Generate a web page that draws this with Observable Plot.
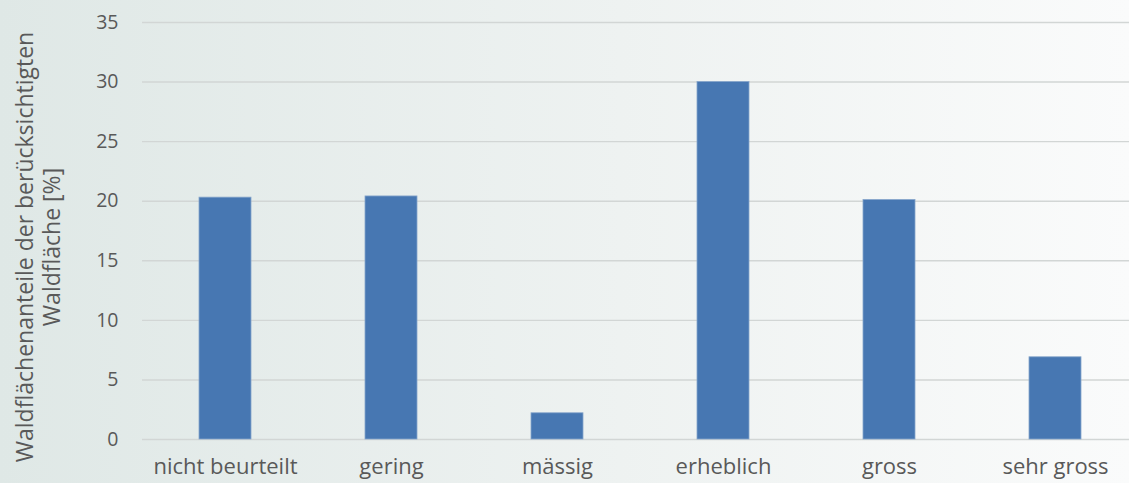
<!DOCTYPE html>
<html>
<head>
<meta charset="utf-8">
<script src="https://cdn.jsdelivr.net/npm/d3@7"></script>
<script src="https://cdn.jsdelivr.net/npm/@observablehq/plot@0.6"></script>
<style>
  html, body { margin: 0; padding: 0; }
  body { width: 1129px; height: 483px; overflow: hidden;
         background: linear-gradient(to right, #dfe8e6 0%, #eef2f1 55%, #fafbfb 100%); }
  svg { display: block; background: transparent !important; }
</style>
</head>
<body>
<div id="chart"></div>
<script>
const categories = ["nicht beurteilt", "gering", "mässig", "erheblich", "gross", "sehr gross"];
const values = [20.3, 20.4, 2.2, 30.0, 20.1, 6.9];
const yTicks = [0, 5, 10, 15, 20, 25, 30, 35];
const yLabel = "Waldflächenanteile der berücksichtigten\nWaldfläche [%]";

const data = categories.map((c, i) => ({category: c, value: values[i]}));

const plot = Plot.plot({
  width: 1129,
  height: 483,
  marginLeft: 142,
  marginRight: 0,
  marginTop: 22,
  marginBottom: 44,
  style: {background: "transparent", fontFamily: "'Open Sans', sans-serif", color: "#595959"},
  x: {domain: categories, range: [142, 1138], paddingInner: 0.687, paddingOuter: 0.3435, label: null},
  y: {domain: [0, 35], range: [439, 22], label: null},
  marks: [
    Plot.ruleY(yTicks, {stroke: "#d2d6d5", strokeWidth: 1.4}),
    Plot.barY(data, {x: "category", y: "value", fill: "#4777b2", stroke: "#86a5cb", strokeWidth: 0.8}),
    Plot.axisY({ticks: yTicks, tickSize: 0, tickPadding: 24, fontSize: 19.5, label: null, fill: "#595959"}),
    Plot.axisX({tickSize: 0, tickPadding: 19, fontSize: 22, label: null, fill: "#595959"}),
    Plot.text([yLabel], {frameAnchor: "left", rotate: -90, dx: -105, dy: 16, fontSize: 23, lineHeight: 1.18, fill: "#595959", textAnchor: "middle", lineAnchor: "middle"})
  ]
});
document.getElementById("chart").appendChild(plot);
</script>
</body>
</html>
